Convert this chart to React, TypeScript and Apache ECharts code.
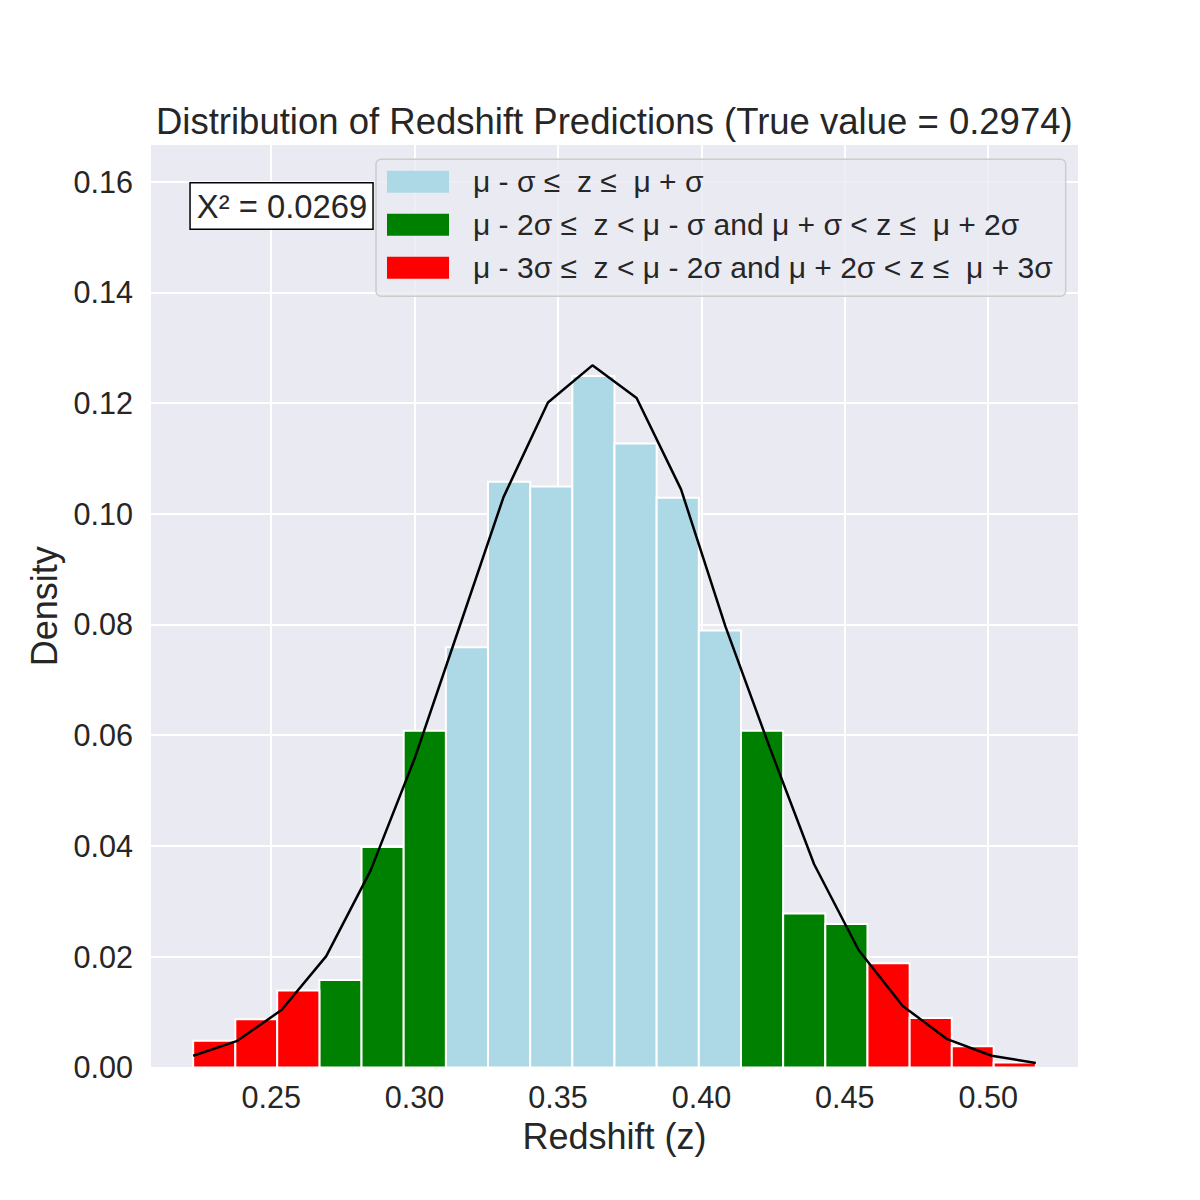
import React, { useEffect, useRef } from "react";
import * as echarts from "echarts";

// ---- data ----
const binEdges = [
  0.2228, 0.2375, 0.2521, 0.2668, 0.2815, 0.2962, 0.3109, 0.3256, 0.3403, 0.355,
  0.3697, 0.3844, 0.3991, 0.4138, 0.4285, 0.4432, 0.4579, 0.4726, 0.4873, 0.5019, 0.5166,
];
const densities = [
  0.0048, 0.0087, 0.0139, 0.0158, 0.0398, 0.0608, 0.0759, 0.1058, 0.1049, 0.1249,
  0.1127, 0.1029, 0.0789, 0.0608, 0.0278, 0.0259, 0.0188, 0.0089, 0.0038, 0.0009,
];
// sigma band of each bin: 1, 2 or 3
const binBand = [3, 3, 3, 2, 2, 2, 1, 1, 1, 1, 1, 1, 1, 2, 2, 2, 3, 3, 3, 3];

const curveX = [
  0.2228, 0.2382, 0.2537, 0.2692, 0.2846, 0.3001, 0.3156, 0.331, 0.3465, 0.362,
  0.3774, 0.3929, 0.4084, 0.4238, 0.4393, 0.4548, 0.4702, 0.4857, 0.5012, 0.5166,
];
const curveY = [
  0.0021, 0.0048, 0.0104, 0.0201, 0.0355, 0.0559, 0.0795, 0.103, 0.1201, 0.1268,
  0.1209, 0.1044, 0.0796, 0.0578, 0.0367, 0.0212, 0.0111, 0.0051, 0.0021, 0.0008,
];

const xTicks = [0.25, 0.3, 0.35, 0.4, 0.45, 0.5];
const yTicks = [0, 0.02, 0.04, 0.06, 0.08, 0.1, 0.12, 0.14, 0.16];

const bandNames: Record<number, string> = {
  1: "μ - σ ≤  z ≤  μ + σ",
  2: "μ - 2σ ≤  z < μ - σ and μ + σ < z ≤  μ + 2σ",
  3: "μ - 3σ ≤  z < μ - 2σ and μ + 2σ < z ≤  μ + 3σ",
};
const bandColors: Record<number, string> = {
  1: "#ADD8E6",
  2: "#008000",
  3: "#FF0000",
};
const bandOrder = [1, 2, 3];

const titleText = "Distribution of Redshift Predictions (True value = 0.2974)";
const chiText = "Χ² = 0.0269";

const FONT = "'Liberation Sans', Arial, Helvetica, sans-serif";
const INK = "#262626";

export default function App() {
  const ref = useRef<HTMLDivElement>(null);

  useEffect(() => {
    if (!ref.current) return;
    const chart = echarts.init(ref.current, undefined, { renderer: "svg" });

    const barSeries = bandOrder.map((band) => ({
      type: "custom",
      name: bandNames[band],
      itemStyle: { color: bandColors[band] },
      encode: { x: [0, 1], y: 2 },
      data: densities
        .map((d, i) => ({ d, i }))
        .filter(({ i }) => binBand[i] === band)
        .map(({ d, i }) => [binEdges[i], binEdges[i + 1], d]),
      renderItem: (params: any, api: any) => {
        const p0 = api.coord([api.value(0), api.value(2)]);
        const p1 = api.coord([api.value(1), 0]);
        return {
          type: "rect",
          shape: { x: p0[0], y: p0[1], width: p1[0] - p0[0], height: p1[1] - p0[1] },
          style: { fill: api.visual("color"), stroke: "#ffffff", lineWidth: 2 },
        };
      },
      z: 2,
      silent: true,
    }));

    const option: any = {
      animation: false,
      backgroundColor: "#ffffff",
      textStyle: { fontFamily: FONT },
      title: {
        text: titleText,
        left: 156,
        top: 103,
        padding: 0,
        textStyle: { fontFamily: FONT, fontSize: 36.5, fontWeight: "normal", color: INK, lineHeight: 36 },
      },
      grid: {
        left: 151,
        top: 145,
        width: 927,
        height: 922.4,
        show: true,
        backgroundColor: "#EAEAF2",
        borderWidth: 0,
        containLabel: false,
        outerBoundsMode: "none",
      },
      xAxis: {
        type: "value",
        min: 0.2081,
        max: 0.5313,
        name: "Redshift (z)",
        nameLocation: "middle",
        nameGap: 51,
        nameMoveOverlap: false,
        nameTextStyle: { fontFamily: FONT, fontSize: 36, color: INK, lineHeight: 36 },
        axisLine: { show: false },
        axisTick: { show: false, customValues: xTicks },
        axisLabel: {
          customValues: xTicks,
          formatter: (v: number) => v.toFixed(2),
          fontFamily: FONT,
          fontSize: 30.6,
          color: INK,
          margin: 14,
          lineHeight: 31,
        },
        splitLine: { show: true, lineStyle: { color: "#ffffff", width: 2 } },
      },
      yAxis: {
        type: "value",
        min: 0,
        max: 0.1666,
        name: "Density",
        nameLocation: "middle",
        nameGap: 89,
        nameMoveOverlap: false,
        nameTextStyle: { fontFamily: FONT, fontSize: 36, color: INK, lineHeight: 36 },
        axisLine: { show: false },
        axisTick: { show: false, customValues: yTicks },
        axisLabel: {
          customValues: yTicks,
          formatter: (v: number) => v.toFixed(2),
          fontFamily: FONT,
          fontSize: 30.6,
          color: INK,
          margin: 18,
        },
        splitLine: { show: true, lineStyle: { color: "#ffffff", width: 2 } },
      },
      legend: {
        show: true,
        orient: "vertical",
        left: 376,
        top: 159.3,
        data: bandOrder.map((b) => ({ name: bandNames[b], icon: "rect" })),
        itemWidth: 62,
        itemHeight: 22,
        itemGap: 12,
        padding: [7, 13, 13, 11],
        selectedMode: false,
        backgroundColor: "rgba(234,234,242,0.8)",
        borderColor: "#cccccc",
        borderWidth: 1.5,
        borderRadius: 5,
        itemStyle: { borderWidth: 0 },
        textStyle: {
          fontFamily: FONT,
          fontSize: 30,
          color: INK,
          lineHeight: 31,
          padding: [0, 0, 0, 19],
        },
        z: 10,
      },
      graphic: [
        {
          type: "text",
          left: 189.3,
          top: 182,
          z: 20,
          style: {
            text: chiText,
            fontFamily: FONT,
            fontSize: 32.8,
            fill: INK,
            backgroundColor: "#ffffff",
            borderColor: "#000000",
            borderWidth: 1.5,
            padding: [6, 5, 6, 6],
            lineHeight: 33,
          },
        },
      ],
      series: [
        ...barSeries,
        {
          type: "line",
          name: "fit",
          data: curveX.map((x, i) => [x, curveY[i]]),
          symbol: "none",
          lineStyle: { color: "#000000", width: 2.5 },
          z: 5,
          silent: true,
        },
      ],
    };

    chart.setOption(option);
    return () => {
      chart.dispose();
    };
  }, []);

  return (
    <div
      ref={ref}
      style={{ position: "absolute", left: 0, top: 0, width: 1200, height: 1200 }}
    />
  );
}
